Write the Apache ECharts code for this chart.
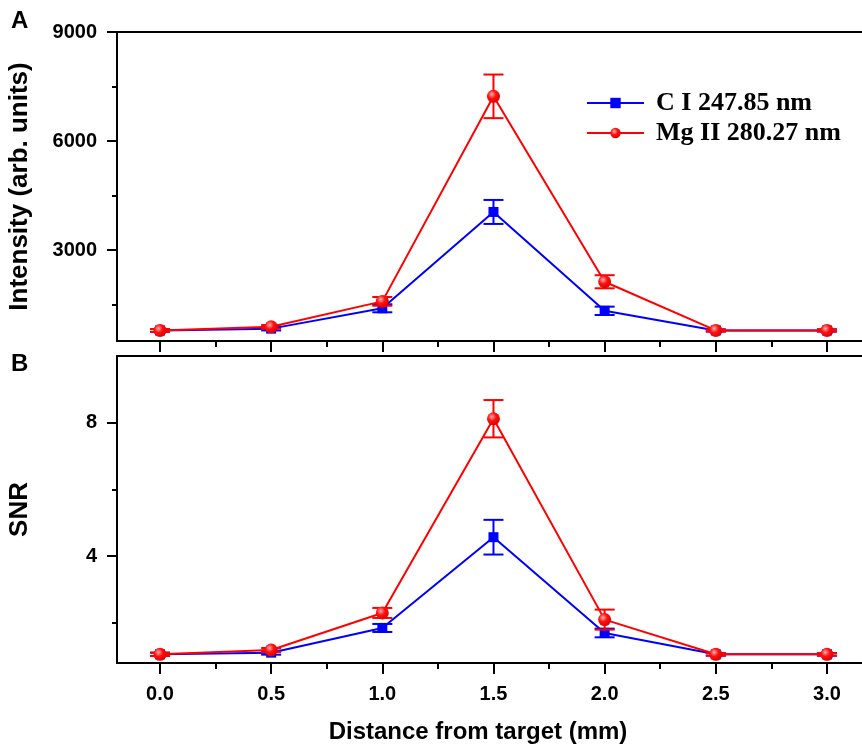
<!DOCTYPE html>
<html>
<head>
<meta charset="utf-8">
<style type="text/css">
html, body {margin: 0; padding: 0; background: #fff; overflow: hidden}
#main {width: 920px; height: 752px}
</style>
<script src="https://cdn.jsdelivr.net/npm/echarts@6/dist/echarts.min.js"></script>
</head>
<body>
<div id="main"></div>
<script type="text/javascript">
// distance from target (mm)
var xs = [0, 0.5, 1.0, 1.5, 2.0, 2.5, 3.0];
// panel A: intensity (arb. units)
var cInt = [790, 840, 1400, 4050, 1330, 790, 790];
var cIntErr = [40, 50, 110, 330, 115, 30, 30];
var mgInt = [790, 890, 1590, 7230, 2130, 790, 790];
var mgIntErr = [40, 50, 120, 600, 180, 30, 30];
// panel B: SNR
var cSnr = [1.06, 1.11, 1.85, 4.57, 1.7, 1.06, 1.06];
var cSnrErr = [0.05, 0.06, 0.12, 0.52, 0.13, 0.04, 0.04];
var mgSnr = [1.06, 1.19, 2.3, 8.12, 2.1, 1.06, 1.06];
var mgSnrErr = [0.05, 0.06, 0.15, 0.56, 0.3, 0.04, 0.04];
// ticks
var xTicks = [0, 0.5, 1.0, 1.5, 2.0, 2.5, 3.0];
var xMinor = [0.25, 0.75, 1.25, 1.75, 2.25, 2.75];
var intTicks = [3000, 6000, 9000];
var intMinor = [1500, 4500, 7500];
var snrTicks = [4, 8];
var snrMinor = [2, 6];

var nameC = 'C I 247.85 nm';
var nameMg = 'Mg II 280.27 nm';
var sans = 'Liberation Sans, Arial, sans-serif';
var blue = '#0000ff';
var red = '#ff0000';
// plot frame runs past the right edge of the picture
var xMin = -0.1934, xMax = 3.405;

var chart = echarts.init(document.getElementById('main'));

function pairs(v) {
    return xs.map(function (x, i) { return [x, v[i]]; });
}
function triples(v, e) {
    return xs.map(function (x, i) { return [x, v[i], e[i]]; });
}
function errBar(color) {
    return function (params, api) {
        var x = api.value(0), y = api.value(1), e = api.value(2);
        var t = api.coord([x, y + e]);
        var b = api.coord([x, y - e]);
        var hw = 10;
        var st = {stroke: color, lineWidth: 2};
        return {
            type: 'group',
            children: [
                {type: 'line', shape: {x1: t[0], y1: t[1], x2: b[0], y2: b[1]}, style: st},
                {type: 'line', shape: {x1: t[0] - hw, y1: t[1], x2: t[0] + hw, y2: t[1]}, style: st},
                {type: 'line', shape: {x1: b[0] - hw, y1: b[1], x2: b[0] + hw, y2: b[1]}, style: st}
            ]
        };
    };
}
var ball = {
    type: 'radial', x: 0.38, y: 0.35, r: 0.7,
    colorStops: [{offset: 0, color: '#ffb0b0'}, {offset: 0.45, color: '#ff1010'}, {offset: 1, color: '#d80000'}]
};

function mainX(gi, showLabel) {
    return {
        type: 'value', gridIndex: gi, position: 'bottom', min: xMin, max: xMax,
        axisLine: {show: true, onZero: false, lineStyle: {color: '#000', width: 2}},
        axisTick: {show: true, customValues: xTicks, length: 11, lineStyle: {color: '#000', width: 2}},
        axisLabel: {show: showLabel, customValues: xTicks, margin: 21, color: '#000',
            fontSize: 20, fontWeight: 'bold', fontFamily: sans,
            formatter: function (v) { return v.toFixed(1); }},
        splitLine: {show: false}
    };
}
function minorX(gi) {
    return {
        type: 'value', gridIndex: gi, position: 'bottom', min: xMin, max: xMax,
        axisLine: {show: false, onZero: false},
        axisTick: {show: true, customValues: xMinor, length: 6, lineStyle: {color: '#000', width: 2}},
        axisLabel: {show: false},
        splitLine: {show: false}
    };
}
// top edge of each panel's frame
function frameX(gi) {
    return {
        type: 'value', gridIndex: gi, position: 'top', min: xMin, max: xMax,
        axisLine: {show: true, onZero: false, lineStyle: {color: '#000', width: 2}},
        axisTick: {show: false}, axisLabel: {show: false}, splitLine: {show: false}
    };
}
function mainY(gi, min, max, ticks, name) {
    return {
        type: 'value', gridIndex: gi, position: 'left', min: min, max: max,
        name: name, nameLocation: 'middle', nameGap: 84,
        nameTextStyle: {fontSize: 26, fontWeight: 'bold', fontFamily: sans, color: '#000'},
        axisLine: {show: true, onZero: false, lineStyle: {color: '#000', width: 2}},
        axisTick: {show: true, customValues: ticks, length: 10, lineStyle: {color: '#000', width: 2}},
        axisLabel: {show: true, customValues: ticks, margin: 20, color: '#000',
            fontSize: 20, fontWeight: 'bold', fontFamily: sans,
            formatter: function (v) { return String(v); }},
        splitLine: {show: false}
    };
}
function minorY(gi, min, max, ticks) {
    return {
        type: 'value', gridIndex: gi, position: 'left', min: min, max: max,
        axisLine: {show: false, onZero: false},
        axisTick: {show: true, customValues: ticks, length: 5, lineStyle: {color: '#000', width: 2}},
        axisLabel: {show: false},
        splitLine: {show: false}
    };
}
function lineSeries(name, data, color, symbol, size, gi, z) {
    return {
        name: name, type: 'line', xAxisIndex: gi, yAxisIndex: gi, data: data,
        symbol: symbol, symbolSize: size, showSymbol: true, z: z,
        lineStyle: {color: color, width: 2},
        itemStyle: {color: symbol === 'circle' ? ball : color, borderWidth: 0}
    };
}
function errSeries(data, color, gi, z) {
    return {
        type: 'custom', xAxisIndex: gi, yAxisIndex: gi, data: data, z: z, clip: false,
        renderItem: errBar(color), silent: true
    };
}

option = {
    animation: false,
    backgroundColor: '#fff',
    title: [
        {text: 'A', left: 11, top: 9, padding: 0,
            textStyle: {fontSize: 24, fontWeight: 'bold', fontFamily: sans, color: '#000'}},
        {text: 'B', left: 11, top: 352, padding: 0,
            textStyle: {fontSize: 24, fontWeight: 'bold', fontFamily: sans, color: '#000'}}
    ],
    legend: {
        data: [nameC, nameMg],
        orient: 'vertical', left: 586, top: 90, padding: 0,
        itemWidth: 57, itemHeight: 13, itemGap: 4,
        textStyle: {fontSize: 26, fontWeight: 'bold', fontFamily: 'Liberation Serif, Times New Roman, serif',
            color: '#000', lineHeight: 26, padding: [0, 0, 0, 7]}
    },
    grid: [
        {left: 117, top: 32, width: 800, height: 309, show: false, outerBoundsMode: 'none', containLabel: false},
        {left: 117, top: 356, width: 800, height: 307, show: false, outerBoundsMode: 'none', containLabel: false}
    ],
    xAxis: [
        mainX(0, false),
        (function () {
            var a = mainX(1, true);
            a.name = 'Distance from target (mm)';
            a.nameLocation = 'middle';
            a.nameGap = 57;
            a.nameTextStyle = {fontSize: 24, fontWeight: 'bold', fontFamily: sans, color: '#000', padding: [0, 78, 0, 0]};
            return a;
        })(),
        minorX(0),
        minorX(1),
        frameX(0),
        frameX(1)
    ],
    yAxis: [
        mainY(0, 500, 9000, intTicks, 'Intensity (arb. units)'),
        mainY(1, 0.8, 10, snrTicks, 'SNR'),
        minorY(0, 500, 9000, intMinor),
        minorY(1, 0.8, 10, snrMinor)
    ],
    series: [
        errSeries(triples(cInt, cIntErr), blue, 0, 2),
        lineSeries(nameC, pairs(cInt), blue, 'rect', 10, 0, 3),
        errSeries(triples(mgInt, mgIntErr), red, 0, 4),
        lineSeries(nameMg, pairs(mgInt), red, 'circle', 13, 0, 5),
        errSeries(triples(cSnr, cSnrErr), blue, 1, 2),
        lineSeries(nameC, pairs(cSnr), blue, 'rect', 10, 1, 3),
        errSeries(triples(mgSnr, mgSnrErr), red, 1, 4),
        lineSeries(nameMg, pairs(mgSnr), red, 'circle', 13, 1, 5)
    ]
};

if (option && typeof option === "object") {
    chart.setOption(option, true);
}
</script>
</body>
</html>
